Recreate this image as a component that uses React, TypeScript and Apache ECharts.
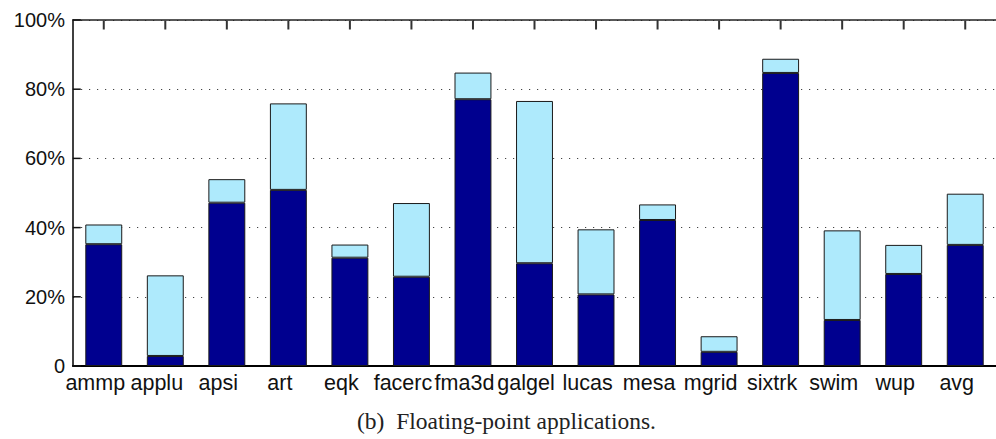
import React, { useEffect, useRef } from "react";
import * as echarts from "echarts";

const categories = ["ammp", "applu", "apsi", "art", "eqk", "facerc", "fma3d", "galgel", "lucas", "mesa", "mgrid", "sixtrk", "swim", "wup", "avg"];
const lowerValues = [35.2, 2.9, 47.2, 50.9, 31.3, 25.8, 77.1, 29.7, 20.7, 42.2, 4.1, 84.7, 13.3, 26.6, 35.0];
const totalValues = [40.9, 26.2, 54.0, 75.9, 35.1, 47.1, 84.8, 76.6, 39.5, 46.7, 8.6, 88.8, 39.2, 35.0, 49.8];
const yTicks = [0, 20, 40, 60, 80, 100];
const caption = "(b)\u00a0 Floating-point applications.";

export default function App() {
  const ref = useRef<HTMLDivElement>(null);
  useEffect(() => {
    if (!ref.current) return;
    const chart = echarts.init(ref.current, null, { renderer: "svg" });
    const upperValues = totalValues.map((t, i) => +(t - lowerValues[i]).toFixed(2));
    const yMax = yTicks[yTicks.length - 1];
    chart.setOption({
      animation: false,
      backgroundColor: "#ffffff",
      grid: { left: 73, top: 20, width: 932.4, height: 346 },
      xAxis: [
        {
          type: "category",
          data: categories,
          position: "bottom",
          boundaryGap: true,
          axisLine: { lineStyle: { color: "#000", width: 2 } },
          axisTick: { show: false },
          axisLabel: {
            interval: 0,
            margin: 6,
            color: "#111",
            fontFamily: "Liberation Sans, Arial, sans-serif",
            fontSize: 21.5,
            padding: [0, 17, 0, 0],
          },
          splitLine: { show: false },
        },
        {
          type: "category",
          data: categories,
          position: "top",
          boundaryGap: true,
          axisLine: { show: true, onZero: false, lineStyle: { color: "#222", width: 1.5 } },
          axisTick: { show: false },
          axisLabel: { show: false },
          splitLine: { show: false },
        },
      ],
      yAxis: {
        type: "value",
        min: yTicks[0],
        max: yMax,
        interval: 20,
        axisLine: { show: true, lineStyle: { color: "#000", width: 1.5 } },
        axisTick: { show: false },
        axisLabel: {
          margin: 8,
          color: "#111",
          fontFamily: "Liberation Sans, Arial, sans-serif",
          fontSize: 20,
          formatter: (v: number) => (v === 0 ? "0" : v + "%"),
        },
        splitLine: { show: true, lineStyle: { color: "#444", type: [1.2, 6.8], width: 1.2 } },
      },
      series: [
        {
          type: "bar",
          stack: "s",
          data: lowerValues,
          barWidth: "60%",
          itemStyle: { color: "#00008f", borderColor: "#1a1a1a", borderWidth: 1 },
        },
        {
          type: "bar",
          stack: "s",
          data: upperValues,
          barWidth: "60%",
          itemStyle: { color: "#aeeafc", borderColor: "#1a1a1a", borderWidth: 1 },
        },
        {
          type: "scatter",
          silent: true,
          clip: false,
          z: 10,
          symbol: "rect",
          symbolSize: [2, 9],
          symbolOffset: [0, 5],
          itemStyle: { color: "#333", opacity: 1 },
          data: categories.map((c) => [c, yMax]),
        },
        {
          type: "scatter",
          silent: true,
          clip: false,
          z: 10,
          symbol: "rect",
          symbolSize: [8, 1.5],
          symbolOffset: [-27, 0],
          itemStyle: { color: "#111", opacity: 1 },
          data: yTicks.map((v) => [categories[0], v]),
        },
      ],
      graphic: [
        {
          type: "text",
          left: 357,
          top: 409,
          style: {
            text: caption,
            fill: "#222",
            font: "23.5px 'Liberation Serif', 'Times New Roman', serif",
          },
        },
      ],
    });
    return () => chart.dispose();
  }, []);
  return <div ref={ref} style={{ position: "fixed", left: 0, top: 0, width: 996, height: 439 }} />;
}
